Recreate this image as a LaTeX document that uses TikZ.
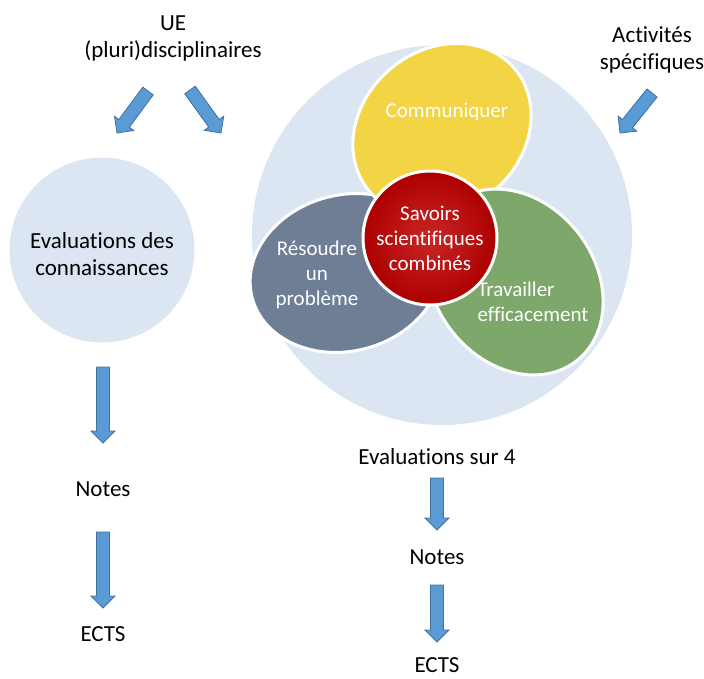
\documentclass[tikz,border=0pt]{standalone}
\usepackage{fontspec}
\setmainfont{Carlito}[Ligatures={NoCommon,NoRequired,NoContextual},Contextuals=NoAlternate]
\usetikzlibrary{calc}

\definecolor{halo}{RGB}{220,230,242}
\definecolor{commyellow}{RGB}{242,212,68}
\definecolor{resgray}{RGB}{110,126,148}
\definecolor{travgreen}{RGB}{126,167,107}
\definecolor{savred}{RGB}{192,0,0}
\definecolor{arrowfill}{RGB}{91,155,213}
\definecolor{arrowline}{RGB}{65,113,156}

\tikzset{
  outer/.style={font=\fontsize{23}{27}\selectfont, align=center, text=black},
  inner/.style={font=\fontsize{21}{25}\selectfont, align=center, text=white},
  petal/.style={draw=white, line width=3pt},
  blockarrow/.style={fill=arrowfill, draw=arrowline, line width=0.8pt, line join=miter},
}

% fat block arrow from #1 (tail) to #2 (tip)
\newcommand{\fatarrow}[2]{%
  \coordinate (fa-base) at ($(#2)!12pt!(#1)$);
  \filldraw[blockarrow]
    ($(#1)!6.5pt!90:(#2)$) -- ($(fa-base)!6.5pt!-90:(#1)$)
    -- ($(fa-base)!12pt!-90:(#1)$) -- (#2)
    -- ($(fa-base)!12pt!90:(#1)$) -- ($(fa-base)!6.5pt!90:(#1)$)
    -- ($(#1)!6.5pt!-90:(#2)$) -- cycle;
}

\begin{document}
\begin{tikzpicture}[x=1pt,y=-1pt]
\useasboundingbox (0,0) rectangle (704,678);

% Big circle behind the petals
\fill[halo] (442,235) circle (190pt);

% Petals
\draw[petal, fill=resgray, rotate around={15:(346,273)}] (346,273) ellipse [x radius=97pt, y radius=78pt];
\draw[petal, fill=commyellow, rotate around={40:(442,130)}] (442,130) ellipse [x radius=95pt, y radius=80pt];
\draw[petal, fill=travgreen, rotate around={-52:(515,282)}] (515,282) ellipse [x radius=100pt, y radius=80pt];

% Centre and left circle
\node[circle, minimum size=134pt, inner sep=0pt, draw=white, line width=3pt,
      inner color=savred!85!white, outer color=savred!90!black, inner] (savoirs) at (430,238)
      {Savoirs\\scientifiques\\combinés};
\fill[halo] (102,250) circle (92.5pt);
\node[outer] (evalc) at (102,254) {Evaluations des\\connaissances};

% Petal labels
\node[inner] (comm) at (447,112) {Communiquer};
\node[inner] (resoudre) at (317,275) {Résoudre\\un\\problème};
\node[inner, align=left, anchor=west] (travail) at (474,302) {Travailler\\efficacement};

% Outside labels
\node[outer] (ue) at (173,38) {UE\\(pluri)disciplinaires};
\node[outer] (activ) at (652,50) {Activités\\spécifiques};
\node[outer] (evals) at (437,457) {Evaluations sur 4};
\node[outer] (notesl) at (103,489) {Notes};
\node[outer] (ectsl) at (103,634) {ECTS};
\node[outer] (notesr) at (437,557) {Notes};
\node[outer] (ectsr) at (437,665) {ECTS};

% Arrow ends
\coordinate (ue-a) at (148,91);
\coordinate (ue-b) at (117,133);
\coordinate (ue-c) at (190,90);
\coordinate (ue-d) at (221,133);
\coordinate (act-a) at (652,93);
\coordinate (act-b) at (620,133);
\coordinate (l-a) at (103,367);
\coordinate (l-b) at (103,443);
\coordinate (l-c) at (103,532);
\coordinate (l-d) at (103,608);
\coordinate (r-a) at (437,478);
\coordinate (r-b) at (437,530);
\coordinate (r-c) at (437,585);
\coordinate (r-d) at (437,642);

\fatarrow{ue-a}{ue-b}
\fatarrow{ue-c}{ue-d}
\fatarrow{act-a}{act-b}
\fatarrow{l-a}{l-b}
\fatarrow{l-c}{l-d}
\fatarrow{r-a}{r-b}
\fatarrow{r-c}{r-d}

\end{tikzpicture}
\end{document}
